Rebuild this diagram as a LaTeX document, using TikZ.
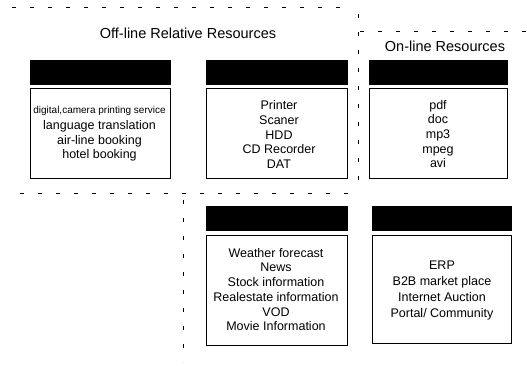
\documentclass[tikz,border=0pt]{standalone}
\usepackage{fontspec}
\setmainfont{Liberation Sans}
\begin{document}
\begin{tikzpicture}[x=1pt,y=-1pt,
  hdr/.style={fill=black, draw=black, minimum height=24pt, inner sep=0pt},
  body/.style={draw=black, line width=0.9pt, inner sep=0pt},
  items/.style={align=center, inner sep=0pt, font=\fontsize{12.5}{14.7}\selectfont},
  ttl/.style={inner sep=0pt, font=\fontsize{14.5}{16}\selectfont},
  sep/.style={line width=0.9pt, dash pattern=on 4pt off 14pt}]
\useasboundingbox (0,0) rectangle (527,365);

% group separators
\coordinate (topL) at (12,7);
\coordinate (topR) at (352,7);
\coordinate (vTop) at (358,14);
\coordinate (vBot) at (358,193);
\coordinate (onL) at (360,31);
\coordinate (onR) at (526,31);
\coordinate (midL) at (20,193);
\coordinate (lowTop) at (183,200);
\coordinate (lowBot) at (183,362);
\draw[sep] (topL) -- (topR);
\draw[sep] (vTop) -- (vBot);
\draw[sep] (onL) -- (onR);
\draw[sep] (midL) -- (vBot);
\draw[sep] (lowTop) -- (lowBot);

% group titles
\node[ttl] (offTitle) at (188,33) {Off-line Relative Resources};
\node[ttl] (onTitle) at (445,46) {On-line Resources};

% off-line: services
\node[hdr, minimum width=140pt] (h1) at (100,72) {};
\node[body, minimum width=140pt, minimum height=90pt] (b1) at (100,133) {};
\node[items] (t1) at (99.5,134) {{\fontsize{10}{11}\selectfont digital,camera printing service}\\[1pt]
  language translation\\air-line booking\\hotel booking};

% off-line: devices
\node[hdr, minimum width=141pt] (h2) at (276.5,72) {};
\node[body, minimum width=141pt, minimum height=90pt] (b2) at (276.5,133) {};
\node[items] (t2) at (279,134.5) {Printer\\Scaner\\HDD\\CD Recorder\\DAT};

% on-line: files
\node[hdr, minimum width=138pt] (h3) at (438,72) {};
\node[body, minimum width=138pt, minimum height=90pt] (b3) at (438,133) {};
\node[items] (t3) at (438,134) {pdf\\doc\\mp3\\mpeg\\avi};

% on-line: information
\node[hdr, minimum width=141pt] (h4) at (277,218) {};
\node[body, minimum width=141pt, minimum height=110pt] (b4) at (277,290) {};
\node[items] (t4) at (276,289.5) {Weather forecast\\News\\Stock information\\Realestate information\\VOD\\Movie Information};

% on-line: commerce
\node[hdr, minimum width=139pt] (h5) at (441.5,218) {};
\node[body, minimum width=139pt, minimum height=108pt] (b5) at (441.5,289) {};
\node[items, font=\fontsize{12.5}{16}\selectfont] (t5) at (442,290.5) {ERP\\B2B market place\\Internet Auction\\Portal/ Community};
\end{tikzpicture}
\end{document}
